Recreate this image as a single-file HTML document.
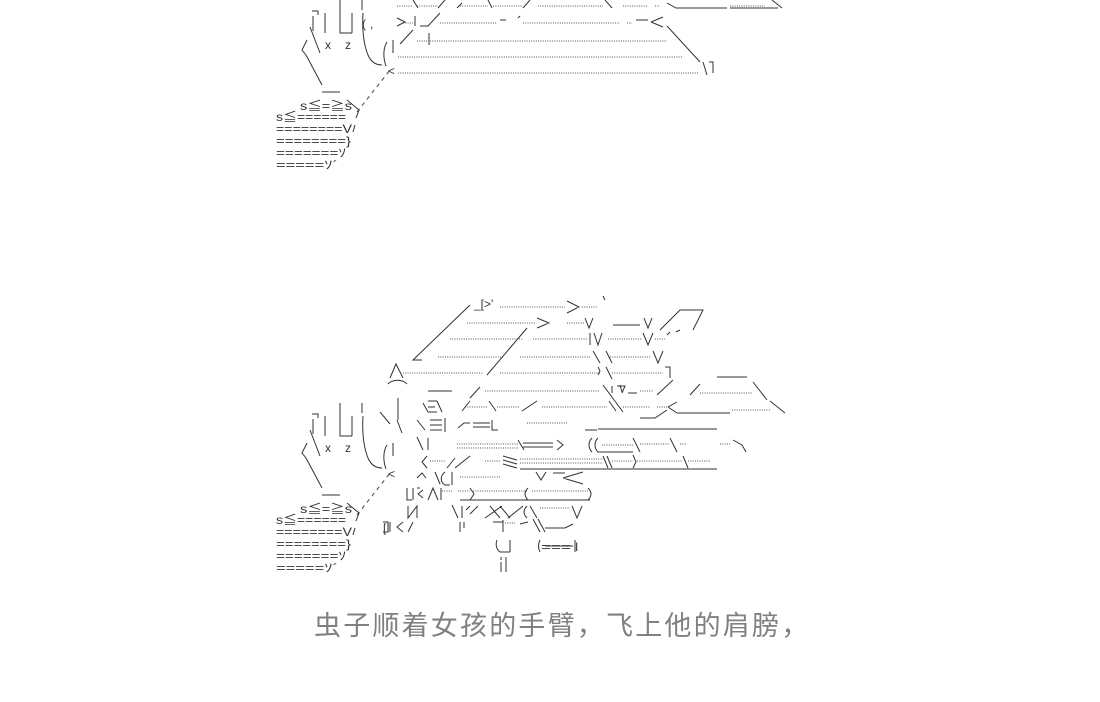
<!DOCTYPE html>
<html><head><meta charset="utf-8">
<style>
html,body{margin:0;padding:0;background:#fff;}
body{width:1100px;height:702px;position:relative;overflow:hidden;}
svg{position:absolute;left:0;top:0;}
.dt{stroke:#555;stroke-width:1;stroke-dasharray:1 1.3;fill:none;}
.ln{stroke:#333;stroke-width:1;fill:none;}
.th{stroke:#222;stroke-width:2;fill:none;}
.dash{stroke:#444;stroke-width:1;stroke-dasharray:4 4;fill:none;}
text{font-family:"Liberation Sans","Noto Sans CJK SC",sans-serif;font-size:12px;fill:#333;}
.cap{position:absolute;left:314px;top:604px;font-size:27px;color:#808080;letter-spacing:2.2px;font-family:"Liberation Sans","Noto Sans CJK SC",sans-serif;white-space:nowrap;}
</style></head><body>
<svg width="1100" height="702" viewBox="0 0 1100 702">
<defs>
<g id="hand">
  <path class="ln" d="M312 11 H318 V15 M313 16 V31 M325 13 V33 M340 0 V33 H352 M352 13 V33 M362 0 V10 M363 13 C362 30 364 45 368 55 C371 62 376 65 382 65 M387 42 C383 48 383 58 386 66 M393 40 V53 M310 27 L320 53 M307 40 L302 50 L306 55 M306 55 L322 85 M322 92 H340 M347 100 L359 110 L356 118 M355 125 L353 132"/>
  <text x="325" y="49" font-size="11">x</text>
  <text x="345" y="49" font-size="11">z</text>
  <text x="300" y="110" textLength="52" lengthAdjust="spacingAndGlyphs">s≦=≧s</text>
  <text x="276" y="121" textLength="70" lengthAdjust="spacingAndGlyphs">s≦======</text>
  <text x="276" y="133" textLength="76" lengthAdjust="spacingAndGlyphs">========V</text>
  <text x="276" y="145" textLength="75" lengthAdjust="spacingAndGlyphs">========}</text>
  <text x="276" y="157" textLength="70" lengthAdjust="spacingAndGlyphs">=======ｿ</text>
  <text x="276" y="169" textLength="62" lengthAdjust="spacingAndGlyphs">=====ｿ´</text>
  <path class="dash" d="M357 112 L390 70"/>
  <text x="388" y="75">&lt;</text>
</g>
</defs>

<use href="#hand"/>
<text x="364" y="3" textLength="26" lengthAdjust="spacingAndGlyphs">▔▔▔</text>
<text x="362" y="28">(</text><text x="370" y="28">,</text>
<path class="dt" d="M397 6 H413 M417 6 H438 M460 6 H488 M493 6 H523 M538 6 H603 M623 6 H647 M655 6 H660 M730 6 H765
 M403 23 H413 M440 23 H497 M523 23 H620 M627 23 H632
 M417 41 H428 M430 41 H667
 M398 57 H682
 M398 73 H698"/>
<path class="ln" d="M413 0 L418 8 M438 8 L445 0 M457 8 L462 3 M488 0 L492 8 M523 8 L530 0 M605 0 L612 8 M667 3 L676 8 H727 M730 8 H778 M772 0 L782 8
 M397 18 L405 22 L397 26 M415 16 L415 26 M420 26 H428 L440 13 M500 20 H506 M518 18 L520 16 M636 20 H648 M651 22 L663 17 M651 22 L663 27
 M429 33 V45 M400 44 L413 30
 M667 26 L700 62 M703 62 L707 75 M709 62 H713 V73"/>

<use href="#hand" transform="translate(0,403)"/>
<path class="ln" d="M397 420 L402 433 M398 398 V420 M380 412 L390 424"/>
<text x="474" y="308">_[&gt;'</text>
<path class="dt" d="M500 307 H565 M582 307 H598
 M467 323 H535 M567 323 H585 M608 339 H642 M655 339 H665
 M450 339 H523 M533 339 H588
 M438 357 H503 M520 357 H590 M610 357 H650
 M403 373 H483 M500 373 H600 M612 373 H663
 M485 391 H600 M640 391 H653 M700 393 H753
 M465 407 H487 M497 407 H520 M542 407 H607 M623 407 H650 M657 407 H667 M732 410 H770
 M527 423 H567
 M457 444 H518 M457 448 H518 M602 445 H633 M640 444 H670 M680 444 H687 M720 444 H730
 M430 461 H445 M485 461 H500 M520 459 H603 M520 463 H603 M612 461 H633 M637 461 H683 M688 461 H710
 M460 477 H500
 M442 491 H452 M458 491 H470 M473 491 H527 M532 491 H588
 M540 508 H570
 M505 523 H515"/>
<path class="ln" d="M470 305 L413 360 H422 M527 328 L487 375 M567 301 L579 307 L567 313 M603 296 L605 300
 M537 318 L549 323 L537 328 M585 318 L589 328 L593 318 M613 325 H640 M644 318 L648 328 L652 318 M660 330 L680 310 H703 L693 330
 M590 333 V345 M594 333 L598 345 L602 333 M643 333 L648 345 L653 333 M667 335 L670 332 M676 332 L680 330
 M593 351 L600 363 M606 351 L612 363 M653 351 L658 363 L663 351
 M390 378 L396 364 L403 378 M598 367 L600 371 L598 375 M606 367 L612 379 M665 367 H670 V378
 M388 384 C393 379 402 379 407 384 M428 391 H452 M470 398 L480 387 M603 385 L623 412 M620 385 L622 392 M612 386 V393 M617 386 H625 L622 393 M628 393 H637 M673 380 L657 395 M690 395 L700 384 M717 377 H747 M753 382 L767 400
 M423 403 L428 412 M428 401 H437 M428 407 H435 M428 412 H437 M437 401 L442 412 M462 411 L470 401 M489 401 L496 411 M522 411 L537 401 M609 401 L616 411 M668 407 L677 402 M668 407 L677 413 M677 413 H730 M770 401 L785 413
 M417 420 L425 430 M430 420 H442 M430 425 H442 M430 430 H442 M445 418 V432 M458 428 L464 423 H470 M473 423 H490 M473 427 H490 M492 420 V430 H498 M640 418 H655 L667 410
 M417 437 L423 450 M428 438 V450 M597 430 L585 430 M598 429 H680 M680 429 H717
 M518 440 L524 450 M523 443 H553 M523 447 H553 M557 440 L563 445 L557 450 M592 438 C588 442 588 448 592 452 M598 438 C594 442 594 448 598 452 H633 M633 438 L640 452 M670 438 L677 452 M733 440 L742 445 L746 452
 M427 456 L422 462 L427 468 M455 458 L447 468 M470 456 L455 468 M503 456 L517 460 M503 460 L517 464 M503 464 L517 468 M603 456 L608 468 M607 456 L612 468 M633 455 L636 462 L633 468 M683 456 L688 468 M520 469 H717
 M417 478 L422 473 L426 478 M435 472 L440 484 M445 472 C440 476 440 482 445 485 H450 M452 472 V485 M536 472 L541 480 L546 472 M553 473 H565 M563 478 L583 472 M563 478 L583 484
 M407 488 V500 H412 M413 488 V500 M417 488 H420 M423 490 L418 494 L423 498 M428 500 L433 488 L438 500 M441 488 V500 M470 488 L474 494 L470 500 M528 488 C524 492 524 496 528 500 M588 488 C592 492 592 496 588 500 M460 500 H590
 M408 506 V518 L417 506 V518 M452 505 L458 518 M462 506 V518 M466 510 L470 506 M470 514 L478 506 M490 506 L500 518 M485 518 L502 506 M500 506 L510 518 M508 518 L523 506 M527 506 C523 510 523 514 527 518 M530 506 L537 518 M572 506 L577 518 L582 506
 M383 522 H388 V532 H383 M390 522 V532 M403 522 L397 527 L403 532 M413 522 L408 532 M460 522 V532 M464 522 V528 M493 522 H503 M503 520 V532 M520 524 L528 522 M533 519 L540 532 M538 519 L545 532 M545 528 H565 L573 524
 M497 540 C495 545 497 550 500 552 H510 M510 540 V552 M540 540 C538 544 538 548 540 552 M545 546 H573 M575 540 V552
 M501 557 V560 M501 562 V572 M506 557 V572"/>
<text x="541" y="551" textLength="30" lengthAdjust="spacingAndGlyphs">===</text>
<text x="575" y="551" font-size="11">I</text>
<text x="383" y="532" font-size="10">[I</text>
</svg>
<div class="cap">虫子顺着女孩的手臂，飞上他的肩膀，</div>
</body></html>
